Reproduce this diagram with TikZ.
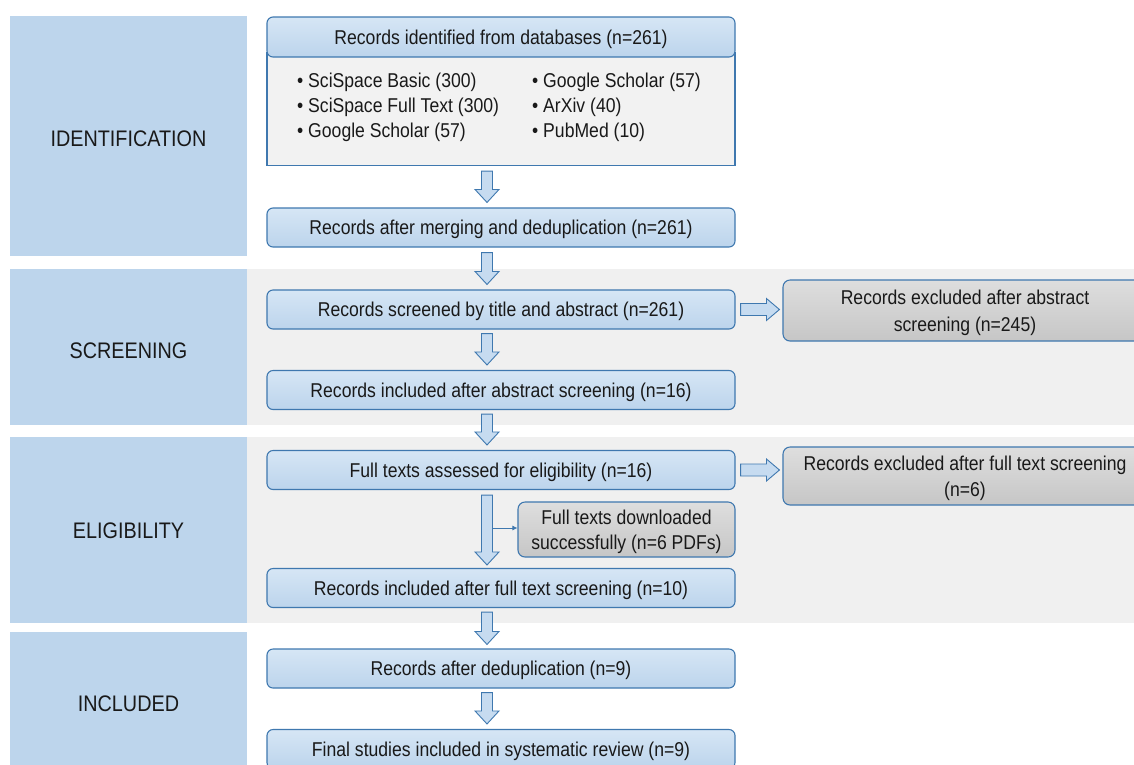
\documentclass[tikz,border=0pt]{standalone}
\usepackage{fontspec}
\setmainfont{Liberation Sans}[FakeStretch=0.88]
\usetikzlibrary{calc,arrows.meta}
\definecolor{phasec}{HTML}{BDD5EC}
\definecolor{bandc}{HTML}{F0F0F0}
\definecolor{bordc}{HTML}{3F78AF}
\definecolor{blueT}{HTML}{D6E6F5}
\definecolor{blueB}{HTML}{BCD4EC}
\definecolor{greyT}{HTML}{DEDEDE}
\definecolor{greyB}{HTML}{C6C6C6}
\definecolor{bodyc}{HTML}{F2F2F2}
\definecolor{arrc}{HTML}{C6DBF0}
\tikzset{
  phase/.style={fill=phasec, draw=none, font=\fontsize{22.5}{26}\selectfont, text=black!90, text depth=0pt},
  band/.style={fill=bandc, draw=none},
  bluebox/.style={draw=bordc, line width=1.1pt, rounded corners=6pt, top color=blueT, bottom color=blueB,
    minimum width=468pt, minimum height=39pt, font=\fontsize{20}{24}\selectfont, inner sep=0pt, text=black!90,
    text depth=0pt},
  greybox/.style={draw=bordc, line width=1.1pt, rounded corners=7pt, top color=greyT, bottom color=greyB,
    align=center, font=\fontsize{20}{26.5}\selectfont, inner sep=0pt, text=black!90, text depth=0pt},
  bodytxt/.style={anchor=base west, font=\fontsize{20}{24}\selectfont, inner sep=0pt, text=black!90},
  blkdown/.style={draw=bordc, line width=0.9pt, fill=arrc, to path={
    let \p1=(\tikztostart), \p2=(\tikztotarget) in
    (\x1-5.5pt,\y1) -- (\x1+5.5pt,\y1) -- (\x1+5.5pt,\y2+13pt) -- (\x1+12pt,\y2+13pt) -- (\x1,\y2)
    -- (\x1-12pt,\y2+13pt) -- (\x1-5.5pt,\y2+13pt) -- cycle}},
  blkright/.style={draw=bordc, line width=0.9pt, fill=arrc, to path={
    let \p1=(\tikztostart), \p2=(\tikztotarget) in
    (\x1,\y1+6pt) -- (\x2-13pt,\y1+6pt) -- (\x2-13pt,\y1+11pt) -- (\x2,\y1) -- (\x2-13pt,\y1-11pt)
    -- (\x2-13pt,\y1-6pt) -- (\x1,\y1-6pt) -- cycle}},
  thinarr/.style={draw=bordc, line width=0.8pt, -{Latex[length=5pt,width=5pt]}}
}
\begin{document}
\begin{tikzpicture}[x=1pt,y=-1pt]
\useasboundingbox (0,0) rectangle (1134,764);
\begin{scope}
\clip (0,0) rectangle (1134,764);
% background bands
\fill[band] (247,269) rectangle (1134,425);
\fill[band] (247,437) rectangle (1134,623);
% phase boxes
\node[phase, minimum width=237pt, minimum height=240pt, text height=20pt] (pid) at (128.5,136) {IDENTIFICATION};
\node[phase, minimum width=237pt, minimum height=156pt, text height=22pt] (psc) at (128.5,347) {SCREENING};
\node[phase, minimum width=237pt, minimum height=186pt, text height=16pt] (pel) at (128.5,530) {ELIGIBILITY};
\node[phase, minimum width=237pt, minimum height=142pt, text height=16pt] (pin) at (128.5,703) {INCLUDED};
% arrow axis
\coordinate (ax) at (487,0);
% identification
\node[draw=bordc, line width=1.1pt, fill=bodyc, minimum width=468pt, minimum height=113pt, inner sep=0pt] (body) at (501,109) {};
\node[bluebox, minimum height=40pt] (n1) at (501,37) {Records identified from databases (n=261)};
\node[bodytxt] at (297,87) {• SciSpace Basic (300)};
\node[bodytxt] at (297,112) {• SciSpace Full Text (300)};
\node[bodytxt] at (297,137) {• Google Scholar (57)};
\node[bodytxt] at (532,87) {• Google Scholar (57)};
\node[bodytxt] at (532,112) {• ArXiv (40)};
\node[bodytxt] at (532,137) {• PubMed (10)};
\node[bluebox] (n2) at (501,227.5) {Records after merging and deduplication (n=261)};
% screening
\node[bluebox] (n3) at (501,309.5) {Records screened by title and abstract (n=261)};
\node[bluebox] (n4) at (501,390) {Records included after abstract screening (n=16)};
\node[greybox, minimum width=364pt, minimum height=61pt] (x1) at (965,310.5) {Records excluded after abstract\\screening (n=245)};
% eligibility
\node[bluebox] (n5) at (501,470) {Full texts assessed for eligibility (n=16)};
\node[greybox, minimum width=217pt, minimum height=55pt, font=\fontsize{20}{25}\selectfont] (dl) at (626.5,529.5) {Full texts downloaded\\successfully (n=6 PDFs)};
\node[bluebox] (n6) at (501,588) {Records included after full text screening (n=10)};
\node[greybox, minimum width=364pt, minimum height=58pt, text depth=-5pt] (x2) at (965,476) {Records excluded after full text screening\\(n=6)};
% included
\node[bluebox] (n7) at (501,668.5) {Records after deduplication (n=9)};
\node[bluebox] (n8) at (501,749) {Final studies included in systematic review (n=9)};
% block arrows
\path[blkdown] ($(body.south -| ax)+(0,5)$) to ($(n2.north -| ax)+(0,-5)$);
\path[blkdown] ($(n2.south -| ax)+(0,5)$) to ($(n3.north -| ax)+(0,-5)$);
\path[blkdown] ($(n3.south -| ax)+(0,4)$) to ($(n4.north -| ax)+(0,-5)$);
\path[blkdown] ($(n4.south -| ax)+(0,4)$) to ($(n5.north -| ax)+(0,-5)$);
\path[blkdown] ($(n5.south -| ax)+(0,5)$) to ($(n6.north -| ax)+(0,-3)$);
\path[blkdown] ($(n6.south -| ax)+(0,4)$) to ($(n7.north -| ax)+(0,-4)$);
\path[blkdown] ($(n7.south -| ax)+(0,4)$) to ($(n8.north -| ax)+(0,-5)$);
\path[blkright] ($(n3.east)+(5,0)$) to ($(x1.west |- n3.east)+(-3,0)$);
\path[blkright] ($(n5.east)+(5,0)$) to ($(x2.west |- n5.east)+(-3,0)$);
\coordinate (sb) at (493,528);
\draw[thinarr] (sb) -- (sb -| dl.west);
\end{scope}
\end{tikzpicture}
\end{document}
